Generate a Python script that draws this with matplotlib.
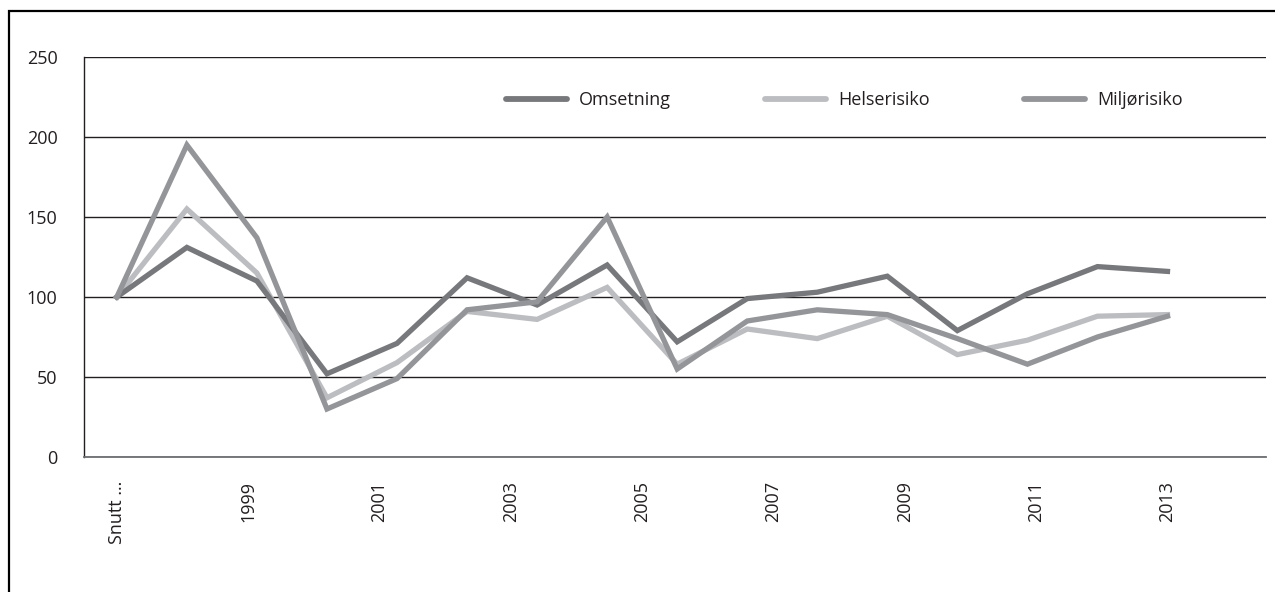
import matplotlib.pyplot as plt
import numpy as np
from matplotlib.patches import Rectangle

plt.rcParams['font.family'] = ['Open Sans', 'DejaVu Sans']

# label axis: 18 slots, every second one labelled
tick_labels = ['Snutt …', '', '1999', '', '2001', '', '2003', '', '2005', '',
               '2007', '', '2009', '', '2011', '', '2013', '']

# 16 data points (Snutt, 1999 ... 2013)
years = ['Snutt …'] + [str(y) for y in range(1999, 2014)]
omsetning = [100, 131, 110, 52, 71, 112, 95, 120, 72, 99, 103, 113, 79, 102, 119, 116]
helserisiko = [100, 155, 115, 37, 59, 91, 86, 106, 58, 80, 74, 88, 64, 73, 88, 89]
miljorisiko = [100, 195, 137, 30, 49, 92, 97, 150, 55, 85, 92, 89, 74, 58, 75, 88]

fig = plt.figure(figsize=(12.75, 5.92), dpi=100)
ax = fig.add_axes([84 / 1275, 135 / 592, 1182 / 1275, 400 / 592])

# the lines span the labelled range from the first to the last label
x = np.arange(len(years)) * 16 / (len(years) - 1)

ax.plot(x, omsetning, color='#77787b', lw=3.8, label='Omsetning',
        solid_joinstyle='miter', zorder=3)
ax.plot(x, helserisiko, color='#bcbdc0', lw=3.8, label='Helserisiko',
        solid_joinstyle='miter', zorder=2)
ax.plot(x, miljorisiko, color='#939598', lw=3.8, label='Miljørisiko',
        solid_joinstyle='miter', zorder=4)

ax.set_xlim(-0.5, 17.5)
ax.set_ylim(0, 250)
ax.set_yticks(range(0, 251, 50))
ax.set_xticks(range(len(tick_labels)))
ax.set_xticklabels(tick_labels, rotation=90)
ax.tick_params(axis='both', length=0, labelsize=13, labelcolor='#231f20')
ax.tick_params(axis='y', pad=19)
ax.tick_params(axis='x', pad=17)

ax.grid(axis='y', color='#231f20', lw=1.0)
ax.set_axisbelow(True)
for s in ['top', 'right']:
    ax.spines[s].set_visible(False)
ax.spines['left'].set_color('#231f20')
ax.spines['bottom'].set_color('#6d6e71')
ax.spines['left'].set_linewidth(1.0)
ax.spines['bottom'].set_linewidth(1.3)

leg = ax.legend(loc='center left', bbox_to_anchor=((506 - 84) / 1182, (457 - 100) / 400),
                ncol=3, frameon=False, fontsize=13, borderpad=0, borderaxespad=0,
                handlelength=3.4, columnspacing=5.2, handletextpad=0.65)
for t in leg.get_texts():
    t.set_color('#231f20')
for h in leg.get_lines():
    h.set_solid_capstyle('round')
    h.set_linewidth(4.2)

# outer frame
fig.patches.append(Rectangle((9 / 1275, -0.1), 1.2, (592 - 11) / 592 + 0.1,
                             transform=fig.transFigure, fill=False,
                             edgecolor='black', lw=1.6))

fig.savefig('out.png', dpi=100)
